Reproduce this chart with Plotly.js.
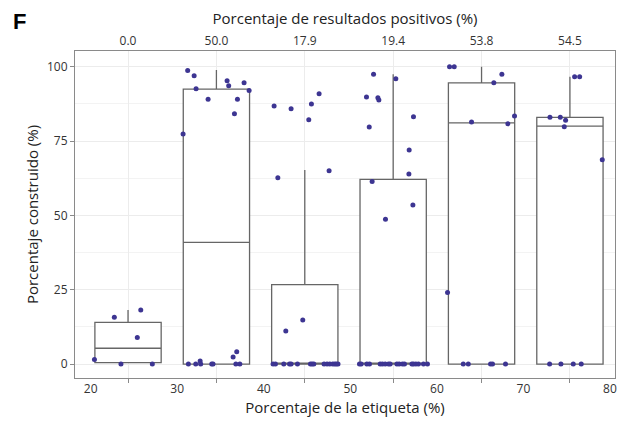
<!DOCTYPE html>
<html>
<head>
<meta charset="utf-8">
<script src="https://cdn.plot.ly/plotly-3.0.1.min.js"></script>
<style>html,body{margin:0;padding:0;background:#fff;}#chart{width:623px;height:425px;}</style>
</head>
<body>
<div id="chart"></div>
<script>
// Categories (top axis: % positive results), one box each
const categories = ["0.0", "50.0", "17.9", "19.4", "53.8", "54.5"];
// Precomputed box statistics (Porcentaje construido, %)
const q1Values = [0.5, 0, 0, 0, 0, 0];
const medianValues = [5.3, 40.9, 0, 0, 81.1, 80.0];
const q3Values = [14.0, 92.5, 26.7, 62.1, 94.6, 83.0];
const lowerFence = [0.5, 0, 0, 0, 0, 0];
const upperFence = [18.2, 98.9, 65.3, 97.5, 100, 96.6];

// Individual observations: horizontal jitter (category units) and value (%)
const g0Jitter = [-0.155, 0.144, 0.105, -0.38, -0.08, 0.275];
const g0Values = [15.7, 18.2, 8.9, 1.5, 0, 0];

const g1Jitter = [-0.325, -0.252, -0.23, -0.094, 0.121, 0.139, 0.313, 0.37, 0.238, 0.204, -0.377,
                  -0.317, -0.234, -0.184, -0.178, -0.053, -0.038, 0.189, 0.23, 0.22, 0.265];
const g1Values = [98.7, 97.0, 92.6, 89.1, 95.3, 93.6, 94.6, 92.0, 89.1, 84.2, 77.4,
                  0, 0, 1.0, 0, 0, 0, 2.4, 4.1, 0, 0];

const g2Jitter = [-0.347, -0.155, 0.045, 0.075, 0.162, -0.305, 0.275, -0.215, -0.023,
                  -0.359, -0.332, -0.238, -0.173, -0.155, -0.083, 0.064, 0.083, 0.102, 0.218, 0.252, 0.283, 0.317, 0.339, 0.358, 0.376];
const g2Values = [86.8, 85.9, 82.2, 87.5, 90.9, 62.7, 65.0, 11.1, 14.8,
                  0, 0, 0, 0, 0, 0, 0, 0, 0, 0, 0, 0, 0, 0, 0, 0];

const g3Jitter = [-0.222, -0.302, -0.173, -0.162, -0.271, 0.03, 0.23, 0.181, 0.178, -0.238, 0.223, -0.087,
                  -0.381, -0.362, -0.298, -0.268, -0.147, -0.121, -0.09, -0.053, -0.034, 0.042, 0.068, 0.105, 0.128, 0.212, 0.23, 0.257, 0.286, 0.343, 0.388];
const g3Values = [97.5, 89.8, 89.6, 88.8, 79.7, 96.0, 83.2, 72.0, 63.9, 61.4, 53.5, 48.7,
                  0, 0, 0, 0, 0, 0, 0, 0, 0, 0, 0, 0, 0, 0, 0, 0, 0, 0, 0];

const g4Jitter = [-0.362, -0.309, 0.23, 0.139, 0.373, -0.113, 0.298, -0.385,
                  -0.207, -0.15, 0.102, 0.124, 0.271];
const g4Values = [100, 100, 97.5, 94.6, 83.4, 81.4, 80.8, 24.1,
                  0, 0, 0, 0, 0];

const g5Jitter = [0.053, 0.11, -0.226, -0.109, -0.049, -0.064, 0.366,
                  -0.23, -0.102, 0.038, 0.128];
const g5Values = [96.6, 96.6, 83.0, 83.0, 82.0, 79.8, 68.7,
                  0, 0, 0, 0];

// Bottom axis tick labels (Porcentaje de la etiqueta, %)
const bottomTicks = [20, 30, 40, 50, 60, 70, 80];
const leftTicks = [0, 25, 50, 75, 100];

const groupJitter = [g0Jitter, g1Jitter, g2Jitter, g3Jitter, g4Jitter, g5Jitter];
const groupValues = [g0Values, g1Values, g2Values, g3Values, g4Values, g5Values];
const positions = categories.map((c, i) => i);

const ptsX = [], ptsY = [];
groupJitter.forEach((jit, i) => {
  jit.forEach((j, k) => { ptsX.push(i + j); ptsY.push(groupValues[i][k]); });
});

const FONT = "Open Sans, Noto Sans, sans-serif";
const GRID = "#ececec";
const AXIS = "#8a8a8a";
const CAT_RANGE = [-0.6, 5.51];

const traces = [
  { type: "scatter", x: [], y: [], xaxis: "x", yaxis: "y", showlegend: false, hoverinfo: "skip" },
  { type: "scatter", x: [], y: [], xaxis: "x3", yaxis: "y", showlegend: false, hoverinfo: "skip" },
  {
    type: "box", xaxis: "x2", yaxis: "y",
    x: positions,
    q1: q1Values, median: medianValues, q3: q3Values,
    lowerfence: lowerFence, upperfence: upperFence,
    width: 0.75, whiskerwidth: 0,
    fillcolor: "#ffffff",
    line: { color: "#666666", width: 1.3 },
    boxpoints: false, showlegend: false
  },
  {
    type: "scatter", mode: "markers", xaxis: "x2", yaxis: "y",
    x: ptsX, y: ptsY,
    marker: { color: "#3d3592", size: 5 },
    showlegend: false
  }
];

const layout = {
  width: 623, height: 425,
  margin: { l: 75, r: 8, t: 51, b: 47 },
  paper_bgcolor: "#ffffff", plot_bgcolor: "#ffffff",
  font: { family: FONT, color: "#333333", size: 12 },
  showlegend: false,
  xaxis: {
    type: "linear", range: [18.19, 80.58],
    tickvals: bottomTicks, ticktext: bottomTicks.map(String),
    ticks: "", showgrid: false, zeroline: false,
    showline: true, linecolor: AXIS, linewidth: 1,
    tickfont: { size: 12, color: "#333" },
    title: { text: "Porcentaje de la etiqueta (%)", font: { size: 15, color: "#222" }, standoff: 6 }
  },
  xaxis3: {
    type: "linear", overlaying: "x", side: "bottom", anchor: "y",
    range: CAT_RANGE, tickvals: positions, showticklabels: false,
    ticks: "outside", ticklen: 4, tickcolor: AXIS,
    showgrid: false, zeroline: false, showline: false
  },
  xaxis2: {
    type: "linear", overlaying: "x", side: "top", anchor: "y",
    range: CAT_RANGE,
    tickvals: positions, ticktext: categories,
    ticks: "",
    showgrid: true, gridcolor: GRID, zeroline: false,
    showline: true, linecolor: AXIS, linewidth: 1,
    tickfont: { size: 12, color: "#333" },
    title: { text: "Porcentaje de resultados positivos (%)", font: { size: 15, color: "#222" }, standoff: 3 }
  },
  yaxis: {
    range: [-4.7, 105.3],
    tickvals: leftTicks, ticktext: leftTicks.map(String),
    ticks: "outside", ticklen: 4, tickcolor: AXIS,
    showgrid: true, gridcolor: GRID, zeroline: false,
    minor: { tick0: 12.5, dtick: 25, showgrid: true, gridcolor: "#f3f3f3", ticks: "" },
    showline: true, linecolor: AXIS, linewidth: 1, mirror: true,
    tickfont: { size: 12, color: "#333" },
    title: { text: "Porcentaje construido (%)", font: { size: 15, color: "#222" }, standoff: 4 }
  },
  annotations: [
    { text: "<b>F</b>", xref: "paper", yref: "paper", x: -0.118, y: 1.135,
      xanchor: "left", yanchor: "top", showarrow: false,
      font: { family: "Liberation Sans, Arial, sans-serif", size: 22, color: "#000" } }
  ]
};

Plotly.newPlot("chart", traces, layout, { displayModeBar: false, staticPlot: true });
</script>
</body>
</html>
